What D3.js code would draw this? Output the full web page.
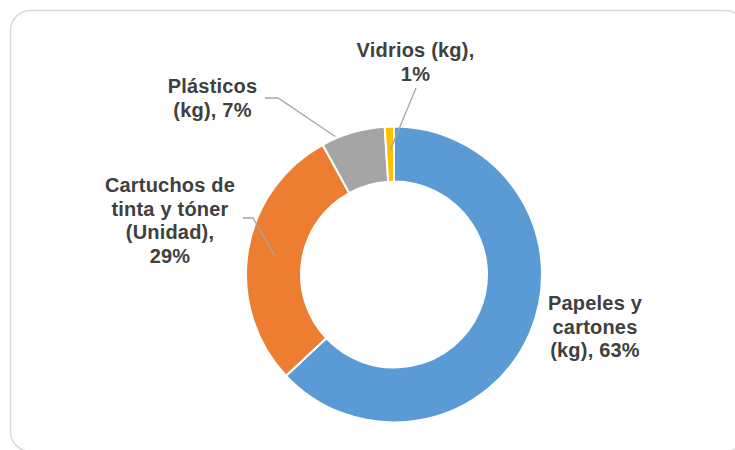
<!DOCTYPE html>
<html>
<head>
<meta charset="utf-8">
<script src="https://cdn.jsdelivr.net/npm/d3@7"></script>
<style>
  html, body { margin: 0; padding: 0; background: #fff; }
  svg { display: block; }
  text { font-family: "Liberation Sans", Arial, sans-serif; font-weight: bold; fill: #404040; }
</style>
</head>
<body>
<svg id="chart" width="735" height="450"></svg>
<script>
// Data
const categories = ["Papeles y cartones (kg)", "Cartuchos de tinta y tóner (Unidad)", "Plásticos (kg)", "Vidrios (kg)"];
const values = [63, 29, 7, 1];
const colors = ["#5B9BD5", "#ED7D31", "#A5A5A5", "#FFC000"];
const labelLines = [
  ["Papeles y", "cartones", "(kg), 63%"],
  ["Cartuchos de", "tinta y tóner", "(Unidad),", "29%"],
  ["Plásticos", "(kg), 7%"],
  ["Vidrios (kg),", "1%"]
];

// Layout
const W = 735, H = 450;
const cx = 394, cy = 274.5, rOuter = 148, rInner = 93;
const fontSize = 20, lineH = 23.5;
const labelPos = [
  { x: 595, y: 310, leader: null },
  { x: 170, y: 192, leader: { x0: 243, x1: 253, y: 218, r: 121, da: 0 } },
  { x: 212.5, y: 93, leader: { x0: 265, x1: 278, y: 98, r: 150, da: -0.12 } },
  { x: 415.5, y: 57, leader: null, straight: { x: 416, y: 88, r: 124 } }
];

const svg = d3.select("#chart");

// Border
svg.append("rect")
  .attr("x", 10.5).attr("y", 10.5)
  .attr("width", 735).attr("height", 441)
  .attr("rx", 20).attr("ry", 20)
  .attr("fill", "#fff")
  .attr("stroke", "#d9d9d9")
  .attr("stroke-width", 1.5);

const pie = d3.pie().sort(null).value(d => d)(values);
const arc = d3.arc().innerRadius(rInner).outerRadius(rOuter);

const g = svg.append("g").attr("transform", `translate(${cx},${cy})`);
g.selectAll("path.slice")
  .data(pie)
  .join("path")
  .attr("class", "slice")
  .attr("d", arc)
  .attr("fill", (d, i) => colors[i])
  .attr("stroke", "#fff")
  .attr("stroke-width", 2)
  .attr("stroke-linejoin", "miter");

function pointAt(d, r, da) {
  const a = (d.startAngle + d.endAngle) / 2 + (da || 0);
  return [cx + r * Math.sin(a), cy - r * Math.cos(a)];
}

// Leader lines
pie.forEach((d, i) => {
  const lp = labelPos[i];
  if (lp.leader) {
    const p = pointAt(d, lp.leader.r, lp.leader.da);
    svg.append("polyline")
      .attr("points", [[lp.leader.x0, lp.leader.y], [lp.leader.x1, lp.leader.y], p].map(q => q.join(",")).join(" "))
      .attr("fill", "none")
      .attr("stroke", "#a6a6a6")
      .attr("stroke-width", 1.3);
  } else if (lp.straight) {
    const p = pointAt(d, lp.straight.r);
    svg.append("line")
      .attr("x1", lp.straight.x).attr("y1", lp.straight.y)
      .attr("x2", p[0]).attr("y2", p[1])
      .attr("stroke", "#a6a6a6")
      .attr("stroke-width", 1.3);
  }
});

// Labels
labelLines.forEach((lines, i) => {
  const lp = labelPos[i];
  const t = svg.append("text")
    .attr("text-anchor", "middle")
    .attr("font-size", fontSize)
    .attr("letter-spacing", "0.2px");
  lines.forEach((ln, j) => {
    t.append("tspan")
      .attr("x", lp.x)
      .attr("y", lp.y + j * lineH)
      .text(ln);
  });
});
</script>
</body>
</html>
